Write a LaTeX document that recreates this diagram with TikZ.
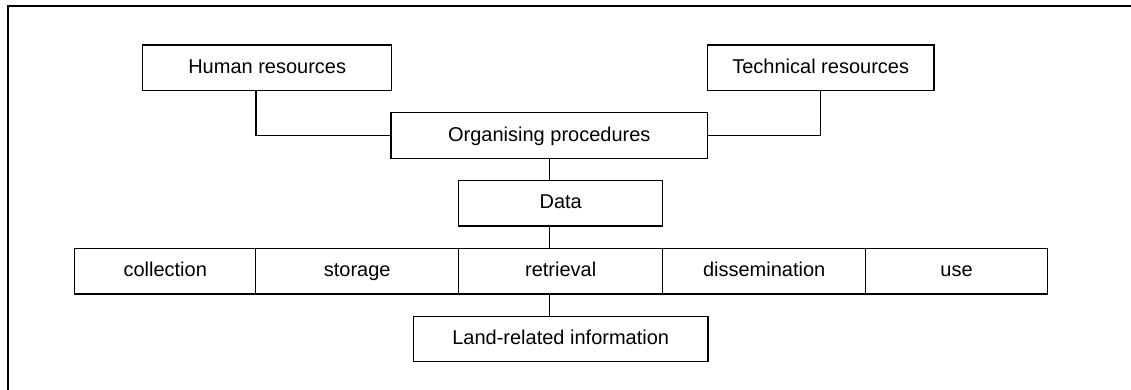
\documentclass[tikz,border=0pt]{standalone}
\usepackage{fontspec}
\setmainfont{Liberation Sans}
\begin{document}
\begin{tikzpicture}[x=1pt,y=-1pt,
  box/.style={draw, line width=1.4pt, inner sep=0pt, anchor=center,
    text height=14.3pt, text depth=3.1pt,
    font=\fontsize{20}{24}\selectfont},
  link/.style={line width=1.4pt},
  frame/.style={line width=2.2pt}]
\useasboundingbox (0,0) rectangle (1131,390);
% open frame: only the top and left edges
\draw[frame] (8,391) -- (8,6) -- (1132,6);

% resources and procedures
\node[box, minimum width=249pt, minimum height=45.3pt] (hr) at (267.2,67.7) {Human resources};
\node[box, minimum width=226.7pt, minimum height=45.3pt] (tr) at (820.7,67.7) {Technical resources};
\node[box, minimum width=316.7pt, minimum height=46pt] (org) at (549.3,135.7) {Organising procedures};
\node[box, minimum width=204pt, minimum height=45.7pt] (data) at (560.7,203.2) {Data};

% data-handling row
\node[box, minimum width=181pt, minimum height=45.5pt] (coll) at (165.2,271.2) {collection};
\node[box, minimum width=203pt, minimum height=45.5pt] (stor) at (357.2,271.2) {storage};
\node[box, minimum width=204pt, minimum height=45.5pt] (retr) at (560.7,271.2) {retrieval};
\node[box, minimum width=203pt, minimum height=45.5pt] (diss) at (764.2,271.2) {dissemination};
\node[box, minimum width=181.6pt, minimum height=45.5pt] (use) at (956.5,271.2) {use};

\node[box, minimum width=294.7pt, minimum height=44.7pt] (land) at (560.7,339) {Land-related information};

% connectors
\draw[link] ([xshift=-11.2pt]hr.south) |- (org.west);
\draw[link] (tr.south) |- (org.east);
\draw[link] (org.south) -- (org.south |- data.north);
\draw[link] (org.south |- data.south) -- (org.south |- retr.north);
\draw[link] (org.south |- retr.south) -- (org.south |- land.north);
\end{tikzpicture}
\end{document}
